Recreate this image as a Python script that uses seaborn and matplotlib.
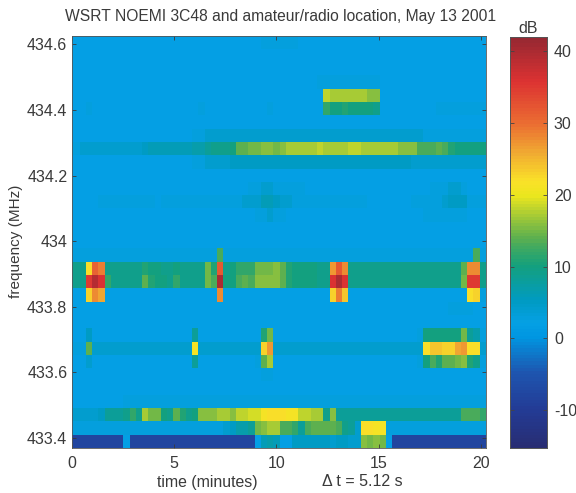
import matplotlib
matplotlib.use("Agg")
import matplotlib.pyplot as plt
from matplotlib.colors import LinearSegmentedColormap, ListedColormap
import numpy as np
import seaborn as sns

# dB per frequency channel (bottom channel first), one value per time bin
row_00 = [-8,-8,-8,-8,-8,-8,-8,-8,-8,2,  -8,-8,-8,-8,-8,-8,-8,-8,-8,-8,  -8,-8,-8,-8,-8,-8,-8,-8,-8,-8,  2,6,7,6,2,2,5,5,5,5,  5,5,4,5,5,4,4,16,15,16,  15,2,-8,-8,-8,-8,-8,-8,-8,-8,  -8,-8,-8,-8,-8,-8,-8]
row_01 = [3,3,3,3,3,3,3,3,3,3,  3,3,3,3,3,3,3,3,3,3,  3,3,3,3,3,4,5,7,7,8,  15,16,17,17,13,13,12,8,13,14,  14,14,14,13,9,8,4,22,22,21,  21,3,3,3,3,3,3,3,3,3,  3,3,3,3,3,3,3]
row_02 = [4,4,4,4,4,5,8,8,8,9,  12,9,17,15,15,10,9,14,11,9,  10,16,16,16,17,17,16,18,18,19,  19,21,22,22,22,21,21,18,18,17,  17,9,16,8,8,8,8,8,8,8,  8,8,8,8,8,8,8,8,8,8,  8,8,8,13,13,13,12]
row_03 = [2,2,2,2,2,2,2,2,2,3,  3,3,3,3,3,3,3,3,3,3,  3,3,3,3,3,3,3,3,3,3,  3,3,3,3,3,3,3,3,3,3,  3,3,3,3,3,3,3,3,3,3,  3,3,3,3,3,3,3,3,3,3,  3,3,3,3,3,3,3]
row_04 = [2,2,2,2,2,2,2,2,2,2,  2,2,2,2,2,2,2,2,2,2,  2,2,2,2,2,2,2,2,2,2,  2,2,2,2,2,2,2,2,2,2,  2,2,2,2,2,2,2,2,2,2,  2,2,2,2,2,2,2,2,2,2,  2,2,2,2,2,2,2]
row_05 = [2,2,2,2,2,2,2,2,2,2,  2,2,2,2,2,2,2,2,2,2,  2,2,2,2,2,2,2,2,2,2,  2,3,3,2,2,2,2,2,2,2,  2,2,2,2,2,2,2,2,2,2,  2,2,2,2,2,2,2,2,2,2,  2,2,2,2,2,2,2]
row_06 = [2,2,2,4,2,2,2,2,2,2,  2,2,2,2,2,2,2,2,2,2,  8,2,2,2,2,2,2,2,2,2,  3,14,17,2,2,2,2,2,2,2,  2,2,2,2,2,2,2,2,2,2,  2,2,2,2,2,2,3,10,13,11,  14,14,15,16,11,9,3]
row_07 = [3,3,3,14,4,4,4,4,4,4,  4,4,4,4,4,4,4,4,4,4,  21,4,4,4,4,4,4,4,4,4,  4,23,27,4,4,4,4,4,4,4,  4,4,4,4,4,4,4,4,4,4,  4,4,4,4,4,4,4,22,24,24,  23,23,26,27,22,22,4]
row_08 = [2,2,2,5,2,2,2,2,2,2,  2,2,2,2,2,2,2,2,2,2,  8,2,2,2,2,2,2,2,2,2,  2,11,15,2,2,2,2,2,2,2,  2,2,2,2,2,2,2,2,2,2,  2,2,2,2,2,2,3,10,10,10,  10,10,10,15,8,7,3]
row_09 = [2,2,2,2,2,2,2,2,2,2,  2,2,2,2,2,2,2,2,2,2,  2,2,2,2,2,2,2,2,2,2,  2,2,2,2,2,2,2,2,2,2,  2,2,2,2,2,2,2,2,2,2,  2,2,2,2,2,2,2,2,2,2,  2,2,2,2,2,2,2]
row_10 = [2,2,2,2,2,2,2,2,2,2,  2,2,2,2,2,2,2,2,2,2,  2,2,2,2,2,2,2,2,2,2,  2,2,2,2,2,2,2,2,2,2,  2,2,2,2,2,2,2,2,2,2,  2,2,2,2,2,2,2,2,2,2,  2,3,3,3,3,2,2]
row_11 = [2,2,2,23,28,26,2,2,2,2,  2,2,2,2,2,2,2,2,2,2,  2,2,2,2,28,2,2,2,2,2,  2,2,2,2,2,2,2,2,2,2,  2,2,23,29,24,2,2,2,2,2,  2,2,2,2,2,2,2,2,2,2,  2,2,2,2,22,23,3]
row_12 = [9,9,9,35,39,36,12,9,9,9,  9,9,14,11,10,10,9,12,9,9,  9,9,15,13,40,10,10,13,14,13,  16,16,16,16,14,11,10,10,10,10,  9,9,36,40,36,9,9,9,9,9,  9,9,9,9,9,9,9,9,9,9,  9,9,9,15,35,35,9]
row_13 = [9,9,9,22,31,29,9,9,9,9,  9,9,11,10,10,9,9,10,9,9,  9,9,15,11,32,9,10,12,12,12,  15,15,15,16,14,11,10,10,10,10,  9,9,27,32,28,9,9,9,9,9,  9,9,9,9,9,9,9,9,9,9,  9,9,9,14,28,28,9]
row_14 = [3,3,3,3,3,3,3,3,3,3,  3,3,3,3,3,3,3,3,3,3,  3,3,3,3,13,3,3,3,3,3,  3,3,3,3,3,3,3,3,3,3,  3,3,3,3,3,3,3,3,3,3,  3,3,3,3,3,3,3,3,3,3,  3,3,3,3,3,13,3]
row_15 = [2,2,2,2,2,2,2,2,2,2,  2,2,2,2,2,2,2,2,2,2,  2,2,2,2,2,2,2,2,2,2,  2,2,2,2,2,2,2,2,2,2,  2,2,2,2,2,2,2,2,2,2,  2,2,2,2,2,2,2,2,2,2,  2,2,2,2,2,2,2]
row_16 = [2,2,2,2,2,2,2,2,2,2,  2,2,2,2,2,2,2,2,2,2,  2,2,2,2,2,2,2,2,2,2,  2,2,2,2,2,2,2,2,2,2,  2,2,2,2,2,2,2,2,2,2,  2,2,2,2,2,2,2,2,2,2,  2,2,2,2,2,2,2]
row_17 = [2,2,2,2,2,2,2,2,2,2,  2,2,2,2,2,2,2,2,2,2,  2,2,2,2,2,2,2,2,2,2,  3,3,4,3,3,2,2,2,2,2,  2,2,2,2,2,2,2,2,2,2,  2,2,2,2,2,2,2,3,3,3,  3,3,3,3,2,2,2]
row_18 = [2,2,2,2,2,3,3,3,3,3,  3,3,3,3,2,3,3,3,3,3,  3,3,3,3,3,3,3,3,4,4,  4,6,6,5,4,4,3,3,3,3,  3,3,3,3,3,3,3,3,2,2,  2,2,2,2,2,3,3,3,3,3,  4,5,5,5,3,3,3]
row_19 = [2,2,2,2,2,2,2,2,2,2,  2,2,2,2,2,2,2,2,2,2,  2,2,2,2,2,2,2,2,2,3,  3,4,4,3,3,3,3,3,2,2,  2,2,2,2,2,2,2,2,2,2,  2,2,2,2,2,2,2,2,3,3,  3,4,4,3,2,2,2]
row_20 = [2,2,2,2,2,2,2,2,2,2,  2,2,2,2,2,2,2,2,2,2,  2,2,2,2,2,2,2,2,2,2,  2,2,2,2,2,2,2,2,2,2,  2,2,2,2,2,2,2,2,2,2,  2,2,2,2,2,2,2,2,2,2,  2,2,2,2,2,2,2]
row_21 = [2,2,2,2,2,2,2,2,2,2,  2,2,2,2,2,2,2,2,2,2,  3,3,4,4,4,4,5,5,5,5,  5,5,5,5,5,5,5,5,5,5,  5,5,5,5,5,5,5,5,5,5,  5,5,5,5,5,4,4,4,4,4,  4,4,4,4,4,4,4]
row_22 = [3,3,4,4,4,4,4,4,4,4,  4,4,5,6,6,6,6,6,6,6,  7,7,8,9,9,9,10,14,14,15,  15,16,16,15,16,17,17,17,17,17,  18,17,17,17,17,18,18,17,17,17,  17,17,17,16,16,16,13,13,13,14,  13,11,10,10,10,10,10]
row_23 = [2,2,2,2,2,2,2,2,2,2,  2,2,2,2,2,2,2,2,2,2,  3,3,4,4,4,4,4,4,4,4,  4,4,4,4,4,4,4,4,4,4,  4,4,4,4,4,4,4,4,4,4,  4,4,4,4,4,4,4,3,3,3,  3,3,3,3,3,3,3]
row_24 = [2,2,2,2,2,2,2,2,2,2,  2,2,2,2,2,2,2,2,2,2,  2,2,2,2,2,2,2,2,2,2,  2,2,2,2,2,2,2,2,2,2,  2,2,2,2,2,2,2,2,2,2,  2,2,2,2,2,2,2,2,2,2,  2,2,2,2,2,2,2]
row_25 = [2,2,2,3,2,2,2,2,2,2,  2,2,2,2,2,2,2,2,2,2,  2,3,2,2,2,2,2,2,2,2,  2,2,3,2,2,2,2,2,2,2,  2,12,10,10,11,10,10,10,10,9,  2,2,2,2,2,2,2,2,2,3,  3,3,3,3,3,3,3]
row_26 = [2,2,2,2,2,2,2,2,2,2,  2,2,2,2,2,2,2,2,2,2,  2,2,2,2,2,2,2,2,2,2,  2,2,2,2,2,2,2,2,2,2,  2,18,17,17,17,17,17,17,16,16,  2,2,2,2,2,2,2,2,2,2,  2,2,2,2,2,2,2]
row_27 = [2,2,2,2,2,2,2,2,2,2,  2,2,2,2,2,2,2,2,2,2,  2,2,2,2,2,2,2,2,2,2,  2,2,2,2,2,2,2,2,2,2,  3,3,3,3,3,3,3,3,3,3,  2,2,2,2,2,2,2,2,2,2,  2,2,2,2,2,2,2]
row_28 = [2,2,2,2,2,2,2,2,2,2,  2,2,2,2,2,2,2,2,2,2,  2,2,2,2,2,2,2,2,2,2,  2,2,2,2,2,2,2,2,2,2,  2,2,2,2,2,2,2,2,2,2,  2,2,2,2,2,2,2,2,2,2,  2,2,2,2,2,2,2]
row_29 = [2,2,2,2,2,2,2,2,2,2,  2,2,2,2,2,2,2,2,2,2,  2,2,2,2,2,2,2,2,2,2,  2,2,2,2,2,2,2,2,2,2,  2,2,2,2,2,2,2,2,2,2,  2,2,2,2,2,2,2,2,2,2,  2,2,2,2,2,2,2]
row_30 = [2,2,2,2,2,2,2,2,2,2,  2,2,2,2,2,2,2,2,2,2,  2,2,2,2,2,2,2,2,2,2,  2,3,3,3,3,3,3,2,2,2,  2,2,2,2,2,2,2,2,2,2,  2,2,2,2,2,2,2,2,2,2,  2,2,2,2,2,2,2]

time_ticks = [0, 5, 10, 15, 20]
freq_ticks = [434.6, 434.4, 434.2, 434.0, 433.8, 433.6, 433.4]
freq_labels = ["434.6", "434.4", "434.2", "434", "433.8", "433.6", "433.4"]
db_ticks = [-10, 0, 10, 20, 30, 40]
db_labels = ["-10", "0", "10", "20", "30", "40"]

# colour stops
stop_db = [-15.3, -10, -5, 0, 2, 5, 10, 14, 17, 20, 22, 26, 30, 36, 42]
stop_rgb = [(40, 45, 115), (35, 60, 150), (30, 85, 175), (0, 150, 225), (5, 160, 228),
            (0, 155, 195), (20, 160, 125), (90, 175, 80), (160, 200, 55), (235, 230, 30),
            (250, 225, 40), (240, 170, 50), (235, 110, 50), (220, 50, 50), (150, 40, 50)]

vmin, vmax = stop_db[0], stop_db[-1]
smooth = LinearSegmentedColormap.from_list(
    "scan_jet",
    [((d - vmin) / (vmax - vmin), tuple(c / 255 for c in rgb)) for d, rgb in zip(stop_db, stop_rgb)])
cmap = ListedColormap(smooth(np.linspace(0, 1, 128)))

rows = [row_00, row_01, row_02, row_03, row_04, row_05, row_06, row_07, row_08, row_09, row_10,
        row_11, row_12, row_13, row_14, row_15, row_16, row_17, row_18, row_19, row_20,
        row_21, row_22, row_23, row_24, row_25, row_26, row_27, row_28, row_29, row_30]
grid = np.array(rows, dtype=float)[::-1]

plt.rcParams['font.family'] = ['Liberation Sans', 'DejaVu Sans']
text_color = "#3a3a3a"

fig = plt.figure(figsize=(5.76, 4.93), dpi=100)
W, H = 576.0, 493.0
ax = fig.add_axes([71.5 / W, 1 - 448 / H, 414.5 / W, 412.5 / H])
cax = fig.add_axes([510 / W, 1 - 448 / H, 37 / W, 411 / H])

sns.heatmap(grid, ax=ax, cbar_ax=cax, cmap=cmap, vmin=vmin, vmax=vmax,
            xticklabels=False, yticklabels=False, cbar_kws={'ticks': db_ticks})

# the first time bin starts left of the axes edge
bin_minutes = 0.3052
bin_offset = 0.715
channel_mhz = 0.04058
top_mhz = 434.627
ax.set_xlim(bin_offset, grid.shape[1])
ax.set_ylim(grid.shape[0], 0)

ax.set_xticks([t / bin_minutes + bin_offset for t in time_ticks])
ax.set_xticklabels([str(t) for t in time_ticks])
ax.set_yticks([(top_mhz - f) / channel_mhz for f in freq_ticks])
ax.set_yticklabels(freq_labels)
ax.tick_params(direction='in', length=3, width=0.6, labelsize=11.5, colors=text_color, pad=3,
               top=True, right=True)
ax.tick_params(axis='x', pad=6)
for s in ax.spines.values():
    s.set_visible(True)
    s.set_linewidth(0.6)
    s.set_color("#555555")

ax.set_ylabel("frequency (MHz)", fontsize=11, color=text_color, labelpad=3)
fig.text(207 / W, 1 - 482 / H, "time (minutes)", fontsize=11.4, color=text_color, ha='center', va='center')
fig.text(362 / W, 1 - 482 / H, "\u0394 t = 5.12 s", fontsize=11.5, color=text_color, ha='center', va='center')
fig.text(65 / W, 1 - 17 / H, "WSRT NOEMI 3C48 and amateur/radio location, May 13 2001",
         fontsize=11.25, color=text_color, ha='left', va='center')

cax.set_yticks(db_ticks)
cax.set_yticklabels(db_labels)
cax.tick_params(direction='in', length=3, width=0.6, labelsize=11.5, labelcolor=text_color,
                color="#444444", left=True, right=True, pad=5)
cax.set_title("dB", fontsize=11.5, color=text_color, pad=3)
for s in cax.spines.values():
    s.set_visible(True)
    s.set_linewidth(0.6)
    s.set_color("#555555")

fig.savefig("out.png", dpi=100)
